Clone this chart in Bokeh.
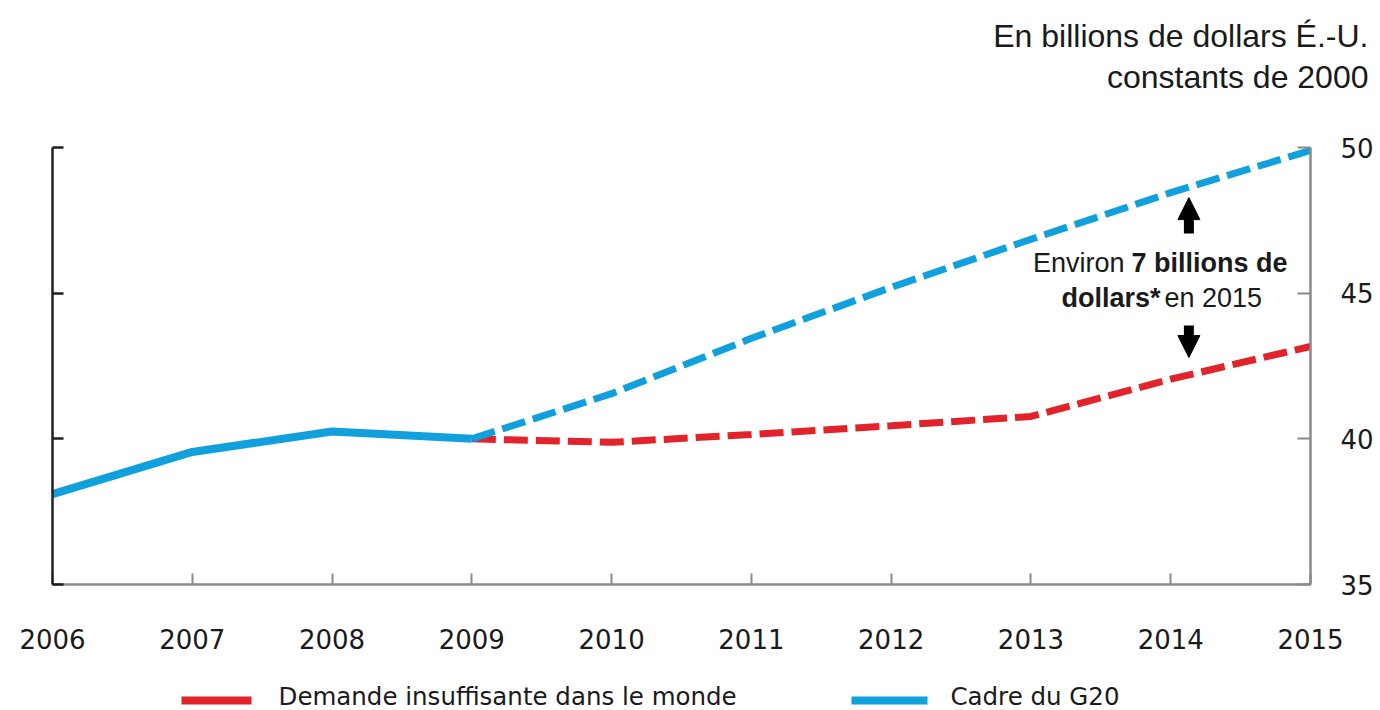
from bokeh.plotting import figure
from bokeh.models import (LinearAxis, FixedTicker, Range1d, Label, Arrow, NormalHead)
from bokeh.embed import file_html
from bokeh.resources import INLINE

# ---- data ----
years_hist = [2006, 2007, 2008, 2009]
g20_hist = [38.1, 39.55, 40.25, 40.0]
years_proj = [2009, 2010, 2011, 2012, 2013, 2014, 2015]
g20_proj = [40.0, 41.55, 43.45, 45.2, 46.85, 48.45, 49.9]
weak_proj = [40.0, 39.88, 40.15, 40.45, 40.77, 42.05, 43.17]
year_ticks = list(range(2006, 2016))
y_ticks = [35, 40, 45, 50]
series_names = ["Demande insuffisante dans le monde", "Cadre du G20"]
title_lines = ["En billions de dollars É.-U.", "constants de 2000"]

BLUE = "#0fa0dd"
RED = "#e2232a"
GRAY = "#8a8a8a"
TXT = "#1a1a1a"

# layout: the frame covers the whole canvas; the axes are pinned at the data edges
X_MIN, X_MAX = 2006, 2015
Y_MIN, Y_MAX = 35, 50
PX_X = 1258 / 9.0      # px per year
PX_Y = 437 / 15.0      # px per unit
x_range = Range1d(X_MIN - 52 / PX_X, X_MAX + 70 / PX_X)
y_range = Range1d(Y_MIN - 126 / PX_Y, Y_MAX + 147 / PX_Y)

p = figure(width=1380, height=710, x_range=x_range, y_range=y_range,
           x_axis_type=None, y_axis_type=None, output_backend="svg", toolbar_location=None,
           min_border=0, title=None)
p.outline_line_color = None
p.background_fill_color = "white"
p.border_fill_color = "white"

xa = LinearAxis(ticker=FixedTicker(ticks=year_ticks), fixed_location=Y_MIN, bounds=(X_MIN, X_MAX))
xa.axis_line_color = GRAY
xa.axis_line_width = 2.5
xa.major_tick_line_color = GRAY
xa.major_tick_line_width = 2
xa.major_tick_in = 11
xa.major_tick_out = 0
xa.minor_tick_line_color = None
xa.major_label_standoff = 44
xa.major_label_text_font = "DejaVu Sans"
xa.major_label_text_font_size = "26px"
xa.major_label_text_color = TXT
p.add_layout(xa, "below")

la = LinearAxis(ticker=FixedTicker(ticks=y_ticks), fixed_location=X_MIN, bounds=(Y_MIN, Y_MAX))
la.axis_line_color = "#202020"
la.axis_line_width = 2.5
la.major_tick_line_color = "#202020"
la.major_tick_line_width = 2.5
la.major_tick_in = 11
la.major_tick_out = 0
la.minor_tick_line_color = None
la.major_label_text_color = None
la.major_label_standoff = 0
p.add_layout(la, "left")

ra = LinearAxis(ticker=FixedTicker(ticks=y_ticks), fixed_location=X_MAX, bounds=(Y_MIN, Y_MAX))
ra.axis_line_color = GRAY
ra.axis_line_width = 2.5
ra.major_tick_line_color = GRAY
ra.major_tick_line_width = 2
ra.major_tick_in = 13
ra.major_tick_out = 0
ra.minor_tick_line_color = None
ra.major_label_standoff = 30
ra.major_label_text_font = "DejaVu Sans"
ra.major_label_text_font_size = "26px"
ra.major_label_text_color = TXT
p.add_layout(ra, "right")

# ---- lines ----
p.line(years_proj, weak_proj, line_color=RED, line_width=7, line_dash="24 8")
p.line(years_proj, g20_proj, line_color=BLUE, line_width=7, line_dash="24 8")
p.line(years_hist, g20_hist, line_color=BLUE, line_width=8)

# ---- texts ----
def lab(x, y, text, align, bold=False, size="27px", font="Liberation Sans", baseline="middle"):
    p.add_layout(Label(x=x, y=y, text=text, text_align=align, text_baseline=baseline,
                       text_font=font, text_font_size=size, text_color=TXT,
                       text_font_style="bold" if bold else "normal"))

lab(2013.669, 46.02, "Environ", "right")
lab(2013.719, 46.02, "7 billions de", "left", bold=True)
lab(2013.927, 44.85, "dollars*", "right", bold=True)
lab(2013.955, 44.85, "en 2015", "left")

p.add_layout(Arrow(end=NormalHead(size=22, fill_color="black", line_color="black"),
                   x_start=2014.13, y_start=47.05, x_end=2014.13, y_end=48.28,
                   line_width=10, line_color="black"))
p.add_layout(Arrow(end=NormalHead(size=22, fill_color="black", line_color="black"),
                   x_start=2014.13, y_start=43.89, x_end=2014.13, y_end=42.79,
                   line_width=10, line_color="black"))

# unit title (top right)
lab(2015.415, 53.83, title_lines[0], "right", size="32px", baseline="alphabetic")
lab(2015.415, 52.41, title_lines[1], "right", size="32px", baseline="alphabetic")

# ---- legend ----
leg_line_y = 31.02
leg_text_y = 31.17
p.add_layout(Arrow(end=None, x_start=2006.923, y_start=leg_line_y, x_end=2007.424, y_end=leg_line_y,
                   line_color=RED, line_width=8))
p.add_layout(Arrow(end=None, x_start=2011.716, y_start=leg_line_y, x_end=2012.26, y_end=leg_line_y,
                   line_color=BLUE, line_width=8))
lab(2007.617, leg_text_y, series_names[0], "left", size="24.5px", font="DejaVu Sans")
lab(2012.424, leg_text_y, series_names[1], "left", size="24.5px", font="DejaVu Sans")

open("out.html", "w").write(file_html(p, INLINE))
